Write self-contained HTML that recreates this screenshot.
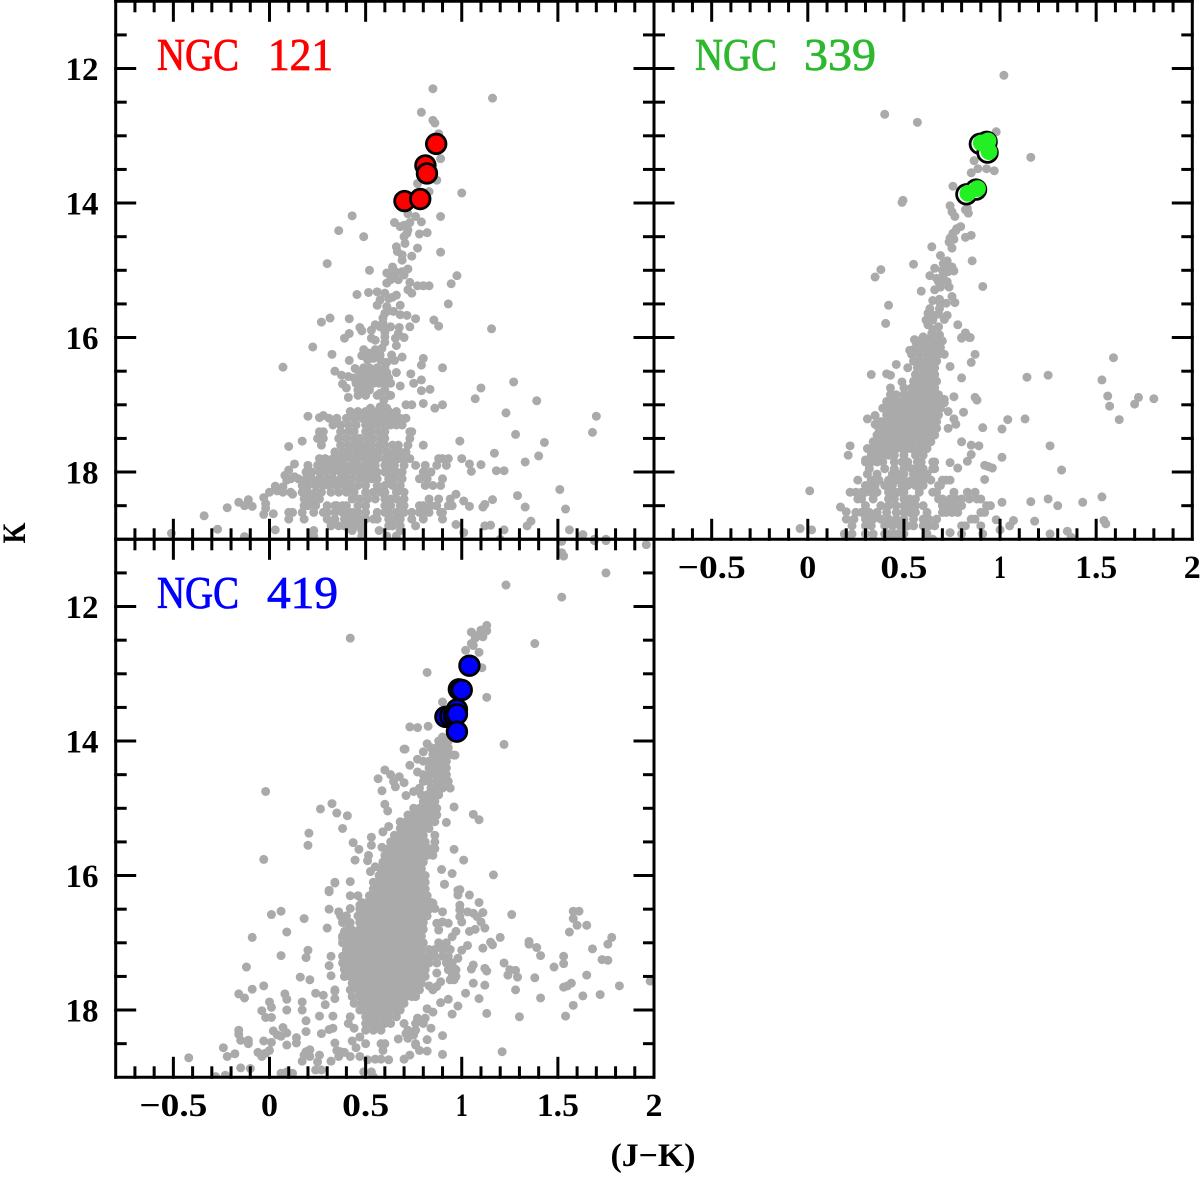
<!DOCTYPE html>
<html lang="en">
<head>
<meta charset="utf-8">
<title>Near-infrared colour-magnitude diagrams of NGC 121, NGC 339 and NGC 419</title>
<style>
  html, body { margin: 0; padding: 0; background: #ffffff; }
  svg { display: block; }
  text { font-family: "Liberation Serif", "DejaVu Serif", serif; }
  .tick-label { font-size: 33px; font-weight: 700; fill: #000000; }
  .panel-title { font-size: 45px; stroke-width: 0.8px; }
  .axis-title { font-size: 33px; font-weight: 700; fill: #000000; }
</style>
</head>
<body>
<svg id="chart" xmlns="http://www.w3.org/2000/svg" width="1200" height="1178" viewBox="0 0 1200 1178">
  <rect x="0" y="0" width="1200" height="1178" fill="#ffffff"/>
  <defs>
    <clipPath id="clip-121"><rect x="115.7" y="1.3" width="538.3" height="538"/></clipPath>
    <clipPath id="clip-339"><rect x="654" y="1.3" width="538.3" height="538"/></clipPath>
    <clipPath id="clip-419"><rect x="115.7" y="539.3" width="538.3" height="538"/></clipPath>
  </defs>
  <g id="layer-points"></g>
  <g id="layer-highlight"></g>
  <g id="layer-axes"></g>
  <g id="layer-labels"></g>
  <g fill="#ff0000" stroke="#ff0000">
    <text class="panel-title" x="157" y="70" textLength="82" lengthAdjust="spacingAndGlyphs">NGC</text>
    <text class="panel-title" x="268" y="70" textLength="65" lengthAdjust="spacingAndGlyphs">121</text>
  </g>
  <g fill="#2eb82e" stroke="#2eb82e">
    <text class="panel-title" x="695" y="70" textLength="82" lengthAdjust="spacingAndGlyphs">NGC</text>
    <text class="panel-title" x="804" y="70" textLength="72" lengthAdjust="spacingAndGlyphs">339</text>
  </g>
  <g fill="#0000ff" stroke="#0000ff">
    <text class="panel-title" x="157" y="608" textLength="82" lengthAdjust="spacingAndGlyphs">NGC</text>
    <text class="panel-title" x="267" y="608" textLength="71" lengthAdjust="spacingAndGlyphs">419</text>
  </g>
  <text class="axis-title" transform="translate(25 533) rotate(-90)" text-anchor="middle" textLength="21" lengthAdjust="spacingAndGlyphs">K</text>
  <text class="axis-title" x="653" y="1166" text-anchor="middle" textLength="85" lengthAdjust="spacingAndGlyphs">(J&#8722;K)</text>
</svg>
<script>
// ---- axis values ----
const xMajorTicks = [-0.5, 0, 0.5, 1, 1.5];
const xMinorTicks = [-0.7, -0.6, -0.4, -0.3, -0.2, -0.1, 0.1, 0.2, 0.3, 0.4, 0.6, 0.7, 0.8, 0.9, 1.1, 1.2, 1.3, 1.4, 1.6, 1.7, 1.8, 1.9];
const yMajorTicks = [12, 14, 16, 18];
const yMinorTicks = [11.5, 12.5, 13, 13.5, 14.5, 15, 15.5, 16.5, 17, 17.5, 18.5];
const xTickLabels = ["\u22120.5", "0", "0.5", "1", "1.5", "2"];
const xTickLabelValues = [-0.5, 0, 0.5, 1, 1.5, 2];
const yTickLabels = ["12", "14", "16", "18"];

// ---- highlighted stars [(J-K), K] ----
const ngc121Highlight = [[0.867,13.12],[0.811,13.44],[0.819,13.56],[0.702,13.97],[0.784,13.94]];
const ngc339Highlight = [[0.895,13.12],[0.93,13.09],[0.935,13.25],[0.825,13.87],[0.875,13.8]];
const ngc419Highlight = [[1.04,12.88],[0.985,13.23],[1.0,13.24],[0.975,13.53],[0.915,13.64],[0.94,13.63],[0.96,13.62],[0.975,13.6],[0.975,13.86]];

// ---- NGC 121 stars: individual [(J-K), K] ----
const ngc121Stars = [
[0.85,12.3],[1.16,12.44],[0.79,12.65],[0.85,12.77],[0.86,12.81],[0.88,12.97],[0.89,13.34],[0.87,13.66],[0.77,13.71],[0.83,13.83],[1.0,13.85],
[0.43,14.19],[0.89,14.2],[0.72,14.16],[0.76,14.2],[0.79,14.28],[0.65,14.29],[0.73,14.29],[0.72,14.4],[0.68,14.35],[0.7,14.33],
[0.36,14.41],[0.49,14.5],[0.715,14.45],[0.7,14.5],[0.705,14.6],[0.66,14.65],[0.665,14.72],[0.69,14.77],[0.74,14.79],[0.69,14.85],[0.78,14.46],[0.82,14.44],[0.77,14.67],[0.89,14.73],
[0.3,14.9],[0.52,15.0],[0.64,14.95],[0.61,15.04],[0.655,15.02],[0.69,15.02],[0.72,14.98],[0.63,15.14],[0.61,15.19],[0.67,15.14],[0.7,15.07],[0.65,15.08],
[0.73,15.18],[0.77,15.23],[0.8,15.23],[0.83,15.23],[0.72,15.29],[0.74,15.34],[0.975,15.08],[0.945,15.2],
[0.455,15.36],[0.515,15.33],[0.56,15.32],[0.6,15.34],[0.62,15.42],[0.575,15.44],[0.56,15.52],[0.66,15.37],[0.68,15.52],[0.93,15.5],[0.64,15.4],
[0.61,15.54],[0.6,15.64],[0.59,15.71],[0.645,15.61],[0.68,15.66],[0.715,15.67],[0.76,15.72],[0.855,15.74],[0.88,15.83],[1.155,15.87],[0.62,15.6],
[0.27,15.77],[0.315,15.71],[0.415,15.72],[0.47,15.85],[0.48,15.9],[0.53,15.89],[0.55,15.81],[0.575,15.84],[0.61,15.86],[0.63,15.84],[0.675,15.85],[0.73,15.84],[0.59,15.78],[0.6,15.92],
[0.415,15.94],[0.39,16.01],[0.53,16.01],[0.55,16.04],[0.6,15.99],[0.655,16.01],[0.7,16],[0.67,15.94],[0.66,16.12],[0.225,16.14],[0.325,16.25],[0.415,16.34],[0.07,16.44],[0.6,16.07],
[0.49,16.18],[0.48,16.27],[0.515,16.23],[0.55,16.18],[0.585,16.16],[0.575,16.26],[0.54,16.31],[0.635,16.26],[0.61,16.37],[0.65,16.34],[0.69,16.29],[0.51,16.33],[0.55,16.26],[0.58,16.34],
[0.8,16.31],[0.79,16.41],[0.9,16.45],[0.735,16.54],[0.79,16.63],[0.75,16.68],[0.68,16.72],[0.79,16.79],[0.835,16.77],
[0.445,16.46],[0.34,16.5],[0.375,16.56],[0.41,16.58],[0.38,16.69],[0.4,16.75],[0.41,16.89],
[1.1,16.75],[1.07,16.91],[0.8,16.98],[0.71,17],[0.74,17],[0.86,17.05],[0.9,17],[0.575,16.83],[0.63,16.86],[0.595,16.93],[0.525,17.05],[0.575,17.03],[0.61,17.05],
[1.27,16.66],[1.39,16.94],[1.23,17.12],[1.7,17.17],[1.68,17.41],[1.28,17.44],[1.43,17.56],[0.99,17.54],[1.4,17.76],[1.33,17.85],[1.17,17.72],[1.0,17.8],[1.04,17.88],[1.1,17.89],[1.05,17.99],[1.18,17.98],[1.22,17.98],
[1.51,18.26],[1.29,18.35],[1.16,18.41],[1.33,18.52],[1.54,18.55],[1.12,18.48],[1.11,18.52],[1.04,18.51],[1.01,18.43],[0.97,18.33],[1.36,18.73],[1.34,18.8],[1.56,18.86],[1.63,18.93],[1.22,18.86],[1.15,18.79],[1.12,18.8],[0.97,18.78],[1.01,18.9],[1.2,19.0],[1.69,19.0],[1.75,19.0],
[-0.34,18.65],[-0.22,18.53],[-0.16,18.45],[-0.11,18.41],[-0.13,18.5],[-0.09,18.51],[-0.27,18.85],[-0.51,18.91],[-0.13,18.96],[-0.03,18.38],[0,18.3],[0.03,18.21],[-0.02,18.47],[-0.02,18.54],[-0.03,18.63],[0.02,18.62],[0.03,18.86],
[0.2,17.17],[0.26,17.19],[0.28,17.16],[0.1,17.62],[0.17,17.54],[0.13,17.88],[0.1,17.97],[0.08,18.05],[0.09,18.12],[0.13,18.07],[0.04,18.28],[0.07,18.22],[0.12,18.33]
];
// NGC 121 dense regions: [K, [(J-K) ...]]
const ngc121Rows = [
[17.1,[0.42,0.46,0.5,0.53,0.56,0.59,0.62,0.66]],
[17.2,[0.31,0.35,0.4,0.44,0.48,0.52,0.55,0.58,0.61,0.64,0.68,0.71]],
[17.3,[0.33,0.37,0.41,0.45,0.5,0.53,0.56,0.6,0.63,0.66,0.69]],
[17.4,[0.26,0.28,0.37,0.41,0.44,0.5,0.53,0.57,0.6,0.73,0.74]],
[17.5,[0.25,0.28,0.36,0.4,0.44,0.47,0.51,0.54,0.58,0.6,0.73]],
[17.6,[0.27,0.37,0.41,0.44,0.47,0.5,0.53,0.57,0.6,0.64,0.67,0.72,0.8]],
[17.7,[0.34,0.38,0.41,0.45,0.48,0.51,0.54,0.57,0.61,0.65,0.68,0.71]],
[17.8,[0.26,0.29,0.33,0.36,0.39,0.43,0.46,0.5,0.53,0.56,0.6,0.63,0.67,0.7,0.73,0.88,0.9,0.93]],
[17.9,[0.2,0.25,0.28,0.31,0.35,0.38,0.42,0.45,0.49,0.52,0.55,0.6,0.63,0.65,0.7,0.76,0.81,0.87,0.92]],
[18.0,[0.19,0.22,0.26,0.29,0.33,0.37,0.4,0.44,0.47,0.5,0.53,0.56,0.6,0.63,0.66,0.69,0.8,0.84]],
[18.1,[0.11,0.15,0.19,0.22,0.26,0.3,0.33,0.37,0.4,0.43,0.47,0.5,0.53,0.56,0.62,0.65,0.69,0.78,0.82,0.9]],
[18.2,[0.17,0.2,0.24,0.28,0.31,0.35,0.39,0.42,0.46,0.5,0.56,0.6,0.64,0.68,0.81,0.85,0.89]],
[18.3,[0.07,0.11,0.17,0.2,0.24,0.27,0.32,0.36,0.4,0.44,0.5,0.54,0.58,0.6,0.66,0.7]],
[18.4,[0.18,0.2,0.22,0.26,0.43,0.47,0.51,0.55,0.6,0.63,0.66,0.7,0.83,0.88,0.94]],
[18.5,[0.18,0.2,0.24,0.3,0.34,0.35,0.38,0.4,0.46,0.5,0.6,0.63,0.68,0.7,0.78,0.8,0.84,0.87,0.93,0.95]],
[18.6,[0.1,0.12,0.17,0.23,0.28,0.3,0.34,0.38,0.41,0.43,0.46,0.5,0.56,0.6,0.62,0.66,0.7,0.74,0.78,0.8,0.83,0.89,0.9]],
[18.7,[0.1,0.18,0.3,0.34,0.39,0.42,0.44,0.47,0.5,0.54,0.56,0.62,0.65,0.68,0.74,0.8,0.9]],
[18.8,[0.32,0.36,0.39,0.42,0.45,0.48,0.62,0.64,0.68,0.76]],
[18.87,[0.23,0.43,0.48,0.57,0.68]],
[18.95,[0.22,0.23,0.48,0.61,0.66]],
[16.45,[0.49,0.52,0.56,0.6]],
[16.52,[0.47,0.5,0.53,0.56,0.59,0.61,0.66]],
[16.6,[0.44,0.47,0.5,0.53,0.56,0.59,0.62]],
[16.68,[0.45,0.48,0.51,0.54,0.57,0.6,0.63]],
[16.78,[0.46,0.49,0.52,0.6]],
[16.86,[0.46,0.5,0.56,0.62,0.63]]
];

// ---- NGC 339 stars: individual [(J-K), K] ----
const ngc339Stars = [
[1.02,12.1],[0.4,12.68],[0.57,12.8],[0.98,12.94],[1.16,13.32],[0.865,13.37],[0.85,13.55],[0.885,13.49],[0.93,13.49],[0.97,13.52],[0.755,13.75],[0.495,13.96],[0.49,13.99],
[0.74,14.04],[0.75,14.13],[0.765,14.2],[0.83,14.08],[0.835,14.15],[0.82,14.1],
[0.795,14.35],[0.77,14.41],[0.755,14.45],[0.82,14.51],[0.85,14.48],[0.76,14.54],[0.735,14.58],[0.75,14.67],[0.775,14.38],[0.74,14.52],
[0.645,14.65],[0.69,14.78],[0.855,14.86],[0.55,14.91],[0.725,14.86],[0.705,14.9],[0.75,14.95],[0.76,15.01],[0.73,15.02],[0.66,14.97],[0.705,15.07],[0.68,15.17],[0.67,15.12],[0.635,15.08],[0.73,14.95],[0.7,15.0],
[0.38,14.99],[0.35,15.1],[0.725,15.17],[0.735,15.25],[0.66,15.29],[0.59,15.31],[0.91,15.24],[0.75,15.39],[0.765,15.48],[0.72,15.49],[0.685,15.43],[0.65,15.45],[0.69,15.25],[0.71,15.15],[0.69,15.5],
[0.42,15.52],[0.405,15.79],[0.635,15.57],[0.625,15.64],[0.66,15.67],[0.685,15.57],[0.615,15.74],[0.65,15.74],[0.725,15.67],[0.71,15.73],[0.625,15.81],[0.68,15.84],[0.64,15.7],[0.68,15.65],
[0.78,15.81],[0.82,15.94],[0.8,16],[0.845,16],[0.555,16.03],[0.6,15.99],[0.645,15.94],[0.685,15.96],[0.635,16.01],[0.65,15.88],
[1.59,16.3],[1.14,16.59],[1.25,16.56],[1.53,16.63],[1.56,16.87],[1.57,17.02],[1.72,16.89],[1.7,16.99],[1.8,16.91],[1.62,17.22],[1.13,17.21],[1.04,17.22],[1.01,17.36],[0.91,17.34],[1.26,17.61],[1.01,17.78],[1.32,17.97],[0.92,17.9],[0.94,17.92],[0.96,17.94],[0.92,18.11],
[0.8,16.6],[0.85,16.37],[0.87,16.25],[0.81,17.11],[0.76,16.88],[0.71,16.92],[0.71,16.97],[0.87,16.89],[0.88,16.93],[0.8,16.01],[0.84,16],[0.82,15.93],[0.74,16.43],[0.73,17.1],[0.76,17.21],[0.77,17.29],[0.73,17.35],
[0.8,17.55],[0.85,17.6],[0.89,17.61],[0.85,17.74],[0.83,17.84],[0.74,17.86],[0.78,17.94],[1.25,18.4],[1.3,18.5],[1.16,18.44],[1.01,18.45],[1.43,18.45],[1.53,18.37],[1.54,18.72],[1.55,18.77],[1.18,18.73],[1.07,18.72],[1.05,18.8],[0.98,18.71],[1,18.86],[1.26,18.92],[1.35,18.88],[1.37,18.97],[0.74,18.9],
[0.01,18.28],[-0.04,18.84],[0.02,18.86],[0.33,16.55],[0.41,16.54],[0.43,16.56],[0.46,16.4],[0.49,16.66],[0.22,17.61],[0.21,17.75],[0.31,17.21],[0.35,17.16],[0.35,17.29],[0.3,17.82],[0.56,16.05],[0.53,16.19],[0.52,16.45],[0.17,18.52],[0.2,18.59],[0.26,18.12],[0.22,18.3],
[0.65,19.0],[0.42,19.0],[0.34,19.0],[0.22,18.95]
];
// NGC 339 dense regions: [K, [(J-K) ...]]
const ngc339Rows = [
[16.05,[0.58,0.61,0.64,0.67,0.7]],
[16.15,[0.56,0.6,0.63,0.66,0.69]],
[16.25,[0.54,0.58,0.62,0.65,0.68,0.71]],
[16.35,[0.55,0.58,0.61,0.64,0.67]],
[16.45,[0.57,0.6,0.63,0.66]],
[16.55,[0.56,0.6,0.63,0.66]],
[16.65,[0.55,0.58,0.61,0.64,0.67]],
[16.75,[0.43,0.5,0.54,0.57,0.6,0.63,0.66]],
[16.85,[0.43,0.46,0.5,0.53,0.56,0.59,0.62,0.65,0.68]],
[16.95,[0.41,0.44,0.47,0.5,0.53,0.56,0.59,0.62,0.65,0.68]],
[17.05,[0.39,0.42,0.45,0.48,0.51,0.54,0.57,0.6,0.63,0.66,0.69]],
[17.15,[0.41,0.44,0.47,0.5,0.53,0.56,0.59,0.62,0.65,0.68]],
[17.25,[0.38,0.41,0.44,0.47,0.5,0.53,0.56,0.59,0.62,0.65,0.67]],
[17.35,[0.37,0.4,0.43,0.46,0.49,0.52,0.55,0.58,0.61,0.64,0.67]],
[17.45,[0.36,0.39,0.42,0.45,0.48,0.51,0.54,0.57,0.6,0.63,0.66]],
[17.55,[0.34,0.37,0.4,0.43,0.46,0.49,0.52,0.55,0.58,0.61,0.64]],
[17.65,[0.31,0.34,0.37,0.4,0.43,0.46,0.49,0.52,0.54,0.58,0.62]],
[17.75,[0.33,0.36,0.39,0.42,0.45,0.5,0.56,0.6]],
[17.85,[0.3,0.33,0.36,0.39,0.45,0.49,0.52,0.57,0.59,0.65,0.66]],
[17.95,[0.32,0.4,0.45,0.5,0.54,0.57,0.6,0.65,0.66]],
[18.03,[0.31,0.36,0.44,0.47,0.5,0.55,0.58,0.62]],
[18.12,[0.33,0.37,0.42,0.46,0.5,0.54,0.57,0.6,0.64,0.7,0.72,0.74]],
[18.2,[0.3,0.32,0.35,0.4,0.44,0.49,0.52,0.56,0.6,0.68,0.69]],
[18.3,[0.25,0.28,0.3,0.33,0.36,0.42,0.44,0.47,0.5,0.58,0.65,0.67,0.76,0.83,0.87]],
[18.4,[0.26,0.28,0.34,0.42,0.45,0.5,0.53,0.56,0.68,0.7,0.74,0.77,0.8,0.84,0.88,0.9]],
[18.5,[0.3,0.38,0.42,0.46,0.5,0.53,0.56,0.6,0.7,0.72,0.76,0.8,0.93,0.95]],
[18.6,[0.25,0.28,0.32,0.36,0.41,0.46,0.5,0.53,0.56,0.62,0.7,0.72,0.75,0.78,0.9,0.92]],
[18.7,[0.2,0.24,0.3,0.34,0.38,0.42,0.46,0.5,0.55,0.6,0.63,0.67,0.85,0.87]],
[18.8,[0.23,0.3,0.33,0.4,0.44,0.48,0.52,0.55,0.6,0.63,0.66,0.8,0.82,0.9]],
[18.92,[0.19,0.23,0.3,0.34,0.4,0.42,0.45,0.47,0.5,0.62,0.8,0.91]]
];

// ---- NGC 419 stars: individual [(J-K), K] ----
const ngc419Stars = [
[1.75,11.5],[1.52,11.2],[1.53,11.25],[1.96,11.08],[1.52,11.03],[1.69,11.02],[1.75,11.02],[1.23,11.68],[1.52,11.86],[1.38,12.55],[0.42,12.47],
[1.13,12.28],[1.1,12.35],[1.07,12.43],[1.05,12.55],[1.02,12.65],[1.13,12.36],[0.82,12.98],[1.105,12.91],[1.13,13.35],[0.9,13.42],[0.73,13.79],[0.77,13.8],[0.825,13.78],[1.22,14.05],[0.7,14.12],[0.96,14.21],[1.05,12.38],[1.11,12.45],[1.06,12.58],[1.09,12.68],[1.07,12.47],[0.9,13.94],
[0.705,14.12],[0.82,14.04],[0.965,14.21],[0.6,14.43],[0.63,14.5],[0.565,14.56],[0.675,14.53],[0.7,14.62],[0.655,14.68],[0.645,14.6],[0.585,14.74],[0.73,14.36],[0.77,14.27],[0.8,14.16],[0.77,14.46],[0.71,14.81],[0.75,14.75],[0.6,14.94],[0.615,15.04],
[0.325,14.93],[0.265,15.01],[0.35,15.07],[0.405,15.11],[0.38,15.3],[0.205,15.37],[0.2,15.55],[0.435,15.51],[0.465,15.61],[0.445,15.77],[0.34,16.1],[0.31,16.22],[0.96,14.98],[1.06,15.09],[1.09,15.17],[0.96,15.61],[1.01,15.77],[0.92,15.21],[0.895,15.91],[0.95,15.97],[1.165,15.99],[0.91,16.13],[0.98,16.22],
[0.62,15.27],[0.59,15.35],[0.53,15.43],[0.53,15.55],[0.585,15.58],[0.515,15.7],[0.51,15.78],[0.55,15.87],[0.525,15.94],[-0.02,14.75],[-0.03,15.76],
[1.58,16.53],[1.61,16.53],[1.58,16.64],[1.6,16.74],[1.65,16.74],[1.56,16.84],[1.26,16.58],[1.78,16.92],[1.76,17.02],[1.68,17.09],[1.35,16.98],[1.35,17.02],[1.39,17.07],[1.41,17.19],[1.2,16.92],[1.16,17.03],[1.15,16.99],[1.11,17.08],[1.53,17.2],[1.53,17.31],[1.48,17.36],[1.73,17.25],[1.76,17.26],
[1.22,17.3],[1.25,17.4],[1.28,17.41],[1.24,17.48],[1.29,17.51],[1.38,17.52],[1.65,17.48],[1.98,17.57],[1.82,17.64],[1.57,17.6],[1.55,17.64],[1.53,17.66],[1.28,17.7],[1.41,17.82],[1.63,17.79],[1.72,17.77],[1.58,17.93],[1.54,18.09],[1.3,18.1],[1.13,18.05],[1.21,18.62],
[1.12,17.38],[1.13,17.42],[1.06,17.33],[1.05,17.39],[1.12,17.63],[1.06,17.6],[1.02,17.75],[1.09,17.83],[0.98,17.94],[0.95,18.06],
[1.04,16.29],[1.09,16.4],[0.99,16.21],[0.98,16.29],[0.99,16.44],[0.99,16.51],[1.11,16.55],[1.03,16.54],[1.06,16.56],[1.08,16.61],[1.1,16.69],[1.12,16.78],[0.99,16.61],[1,16.69],[1.07,16.8],[1.04,16.83],[0.97,16.83],[0.95,16.91],[1.03,17.04],[1,17.11],[0.98,17.23],[0.96,17.38],
[0.91,16.13],[0.9,16.54],[0.93,16.71],[0.9,16.69],[0.87,16.71],[0.88,16.81],[0.85,16.41],[0.86,16.49],[0.87,17.45],[0.89,17.58],[0.87,17.65],[0.85,17.7],[0.83,17.64],[0.94,17.55],[0.96,17.55],[0.93,17.84],[0.89,17.89],[0.82,17.98],[0.85,18.03],[0.81,18.12],[0.77,18.12],[0.84,18.27],[0.9,18.38],[0.82,18.44],[0.82,18.61],[0.9,18.66],[0.76,18.52],[0.78,18.6],[0.73,18.67],[0.7,18.73],
[0.06,16.53],[0.01,16.58],[0.18,16.64],[0.09,16.84],[-0.09,16.92],[0.2,17.11],[0.19,17.22],[0.06,17.19],[-0.12,17.36],[0.32,17.2],[0.31,17.34],[0.32,17.49],[0.16,17.51],[0.21,17.55],
[-0.03,17.64],[-0.09,17.69],[-0.16,17.76],[-0.13,17.82],[0.08,17.76],[0.09,17.84],[0,17.88],[0.01,17.96],[-0.04,18.01],[-0.02,18.11],[0.01,18.11],[0.09,18],[0.17,17.88],[0.17,18],[0.24,17.75],[0.28,17.78],[0.29,17.92],[0.34,17.72],[0.34,17.83],[0.26,18.09],[0.33,18.09],[0.19,18.16],
[-0.16,18.3],[-0.16,18.36],[-0.15,18.45],[-0.11,18.45],[-0.11,18.5],[0.02,18.31],[0.04,18.37],[0.07,18.26],[0.09,18.34],[0.06,18.39],[-0.03,18.46],[0.01,18.48],[0.09,18.52],[0.14,18.41],[0.14,18.49],[0.19,18.32],[0.27,18.35],[0.31,18.29],[0.33,18.27],[0.44,18.27],
[-0.24,18.56],[-0.22,18.69],[-0.18,18.65],[-0.42,18.71],[-0.06,18.63],[-0.04,18.69],[-0.02,18.64],[0,18.6],[0.21,18.59],[0.19,18.62],[0.18,18.67],[0.21,18.69],[0.26,18.67],[0.17,18.76],[0.25,18.77],[0.32,18.76],[0.24,18.89],[0.27,18.89],
[0.34,18.49],[0.35,18.6],[0.37,18.62],[0.36,18.69],[0.39,18.63],[0.42,18.69],[0.43,18.46],[0.45,18.56],[0.47,18.4],[0.5,18.5],[0.47,18.69],[-0.15,18.86],[-0.1,18.87],[-0.28,18.99],[-0.23,18.97],[0.06,18.94],[0.09,18.92],[0.12,18.94],[0.49,18.92],[0.53,18.92],[0.54,18.99],
[0.51,18.74],[0.55,18.73],[0.58,18.73],[0.62,18.74],[0.59,18.6],[0.58,18.5],[0.6,18.5],[0.67,18.43],[0.71,18.35],[0.75,18.37],[0.72,18.42],[0.76,18.5],
[0.34,16.11],[0.42,16.09],[0.31,16.24],[0.31,16.5],[0.36,16.54],[0.38,16.64],[0.42,16.49],[0.41,16.69],[0.47,16.44],[0.49,16.54],[0.47,16.69],[0.3,16.78],[0.39,16.83],[0.38,16.93],[0.41,16.98],[0.43,16.81],[0.4,17.11],[0.39,17.28],[0.39,17.38],[0.39,17.5],[0.34,17.7]
];
// NGC 419 dense regions: [K, [(J-K) ...]]
const ngc419Rows = [
[14.0,[0.88,0.9,0.93]],
[14.1,[0.84,0.87,0.9,0.93]],
[14.2,[0.85,0.88,0.91,0.94]],
[14.3,[0.8,0.83,0.86,0.89,0.92]],
[14.4,[0.83,0.86,0.89,0.92]],
[14.5,[0.8,0.83,0.86,0.89,0.92]],
[14.6,[0.8,0.83,0.87,0.9,0.93]],
[14.7,[0.78,0.84,0.87,0.9,0.94]],
[14.8,[0.79,0.82,0.85,0.88]],
[14.9,[0.8,0.83,0.86]],
[15.0,[0.75,0.78,0.81,0.84,0.87]],
[15.1,[0.72,0.75,0.78,0.81,0.84,0.87]],
[15.2,[0.68,0.71,0.74,0.77,0.8,0.83,0.86]],
[15.3,[0.68,0.71,0.74,0.77,0.8,0.83]],
[15.4,[0.65,0.68,0.71,0.74,0.77,0.8,0.86]],
[15.5,[0.63,0.66,0.69,0.72,0.75,0.78,0.81,0.86]],
[15.6,[0.62,0.65,0.68,0.71,0.74,0.77,0.8,0.83,0.86]],
[15.7,[0.6,0.63,0.66,0.69,0.72,0.75,0.78,0.82,0.85]],
[15.8,[0.59,0.62,0.65,0.68,0.71,0.74,0.77,0.8]],
[15.9,[0.58,0.61,0.64,0.67,0.7,0.73,0.76,0.79]],
[16.0,[0.57,0.6,0.63,0.66,0.69,0.72,0.75,0.78,0.81]],
[16.1,[0.54,0.57,0.6,0.63,0.66,0.69,0.72,0.75,0.78,0.81]],
[16.2,[0.54,0.57,0.6,0.63,0.66,0.69,0.72,0.75,0.78,0.81]],
[16.3,[0.42,0.46,0.52,0.55,0.58,0.61,0.64,0.67,0.7,0.73,0.76,0.79,0.82]],
[16.4,[0.48,0.51,0.54,0.57,0.6,0.63,0.66,0.69,0.72,0.75,0.78,0.81,0.84]],
[16.5,[0.47,0.5,0.53,0.56,0.59,0.62,0.65,0.68,0.71,0.74,0.77,0.8,0.83]],
[16.6,[0.37,0.4,0.46,0.49,0.52,0.55,0.58,0.61,0.64,0.67,0.7,0.73,0.76,0.79,0.82]],
[16.7,[0.38,0.42,0.47,0.5,0.53,0.56,0.59,0.62,0.65,0.68,0.71,0.74,0.77,0.8]],
[16.8,[0.41,0.47,0.5,0.53,0.56,0.59,0.62,0.65,0.68,0.71,0.74,0.77,0.8]],
[16.9,[0.38,0.42,0.46,0.49,0.52,0.55,0.58,0.61,0.64,0.67,0.7,0.73,0.76,0.79]],
[17.0,[0.38,0.41,0.44,0.47,0.5,0.53,0.56,0.59,0.62,0.65,0.68,0.71,0.74,0.77,0.8,0.88,0.92]],
[17.1,[0.4,0.43,0.46,0.49,0.52,0.55,0.58,0.61,0.64,0.67,0.7,0.73,0.76,0.79,0.83,0.86,0.9,0.94]],
[17.2,[0.38,0.41,0.44,0.47,0.5,0.53,0.56,0.59,0.62,0.65,0.68,0.71,0.74,0.77,0.8,0.83,0.86,0.9,0.93]],
[17.3,[0.38,0.41,0.44,0.47,0.5,0.53,0.56,0.59,0.62,0.65,0.68,0.71,0.74,0.77,0.8,0.83,0.87,0.92,0.95]],
[17.4,[0.39,0.42,0.45,0.48,0.51,0.54,0.57,0.6,0.63,0.66,0.69,0.72,0.75,0.78,0.81,0.93,0.97]],
[17.5,[0.39,0.42,0.45,0.48,0.51,0.54,0.57,0.6,0.63,0.66,0.69,0.72,0.75,0.78,0.81,0.95,0.97]],
[17.6,[0.43,0.46,0.49,0.52,0.55,0.58,0.61,0.64,0.67,0.7,0.73,0.76,0.79]],
[17.7,[0.42,0.46,0.49,0.52,0.55,0.58,0.61,0.64,0.67,0.7,0.73,0.76,0.78]],
[17.8,[0.43,0.47,0.5,0.53,0.56,0.59,0.62,0.65,0.68,0.71,0.74,0.76]],
[17.9,[0.44,0.48,0.52,0.55,0.58,0.61,0.64,0.67,0.7]],
[18.0,[0.47,0.5,0.53,0.56,0.59,0.62,0.65,0.68]],
[18.1,[0.42,0.5,0.53,0.56,0.59,0.62,0.66]],
[18.2,[0.41,0.5,0.53,0.56,0.6,0.63,0.7,0.76,0.8]],
[18.3,[0.5,0.54,0.58,0.72,0.76]]
];

// ---- panel geometry ----
const panelWidth = 538.3;
const panelHeight = 538;
const xSpan = [-0.8, 2];
const ySpan = [11, 19];
const NS = "http://www.w3.org/2000/svg";
const starRadius = 4.5;

function xScale(panel, c) {
  return panel.left + (c - xSpan[0]) / (xSpan[1] - xSpan[0]) * panelWidth;
}
function yScale(panel, k) {
  return panel.top + (k - ySpan[0]) / (ySpan[1] - ySpan[0]) * panelHeight;
}
function addCircle(parent, cx, cy, r, fill, stroke, strokeWidth, name) {
  const el = document.createElementNS(NS, "circle");
  el.setAttribute("cx", cx.toFixed(2));
  el.setAttribute("cy", cy.toFixed(2));
  el.setAttribute("r", r);
  el.setAttribute("fill", fill);
  if (stroke) { el.setAttribute("stroke", stroke); el.setAttribute("stroke-width", strokeWidth); }
  
  
  parent.appendChild(el);
  return el;
}
function addLine(parent, x1, y1, x2, y2, name) {
  const el = document.createElementNS(NS, "line");
  el.setAttribute("x1", x1.toFixed(2));
  el.setAttribute("y1", y1.toFixed(2));
  el.setAttribute("x2", x2.toFixed(2));
  el.setAttribute("y2", y2.toFixed(2));
  el.setAttribute("stroke", "#000000");
  el.setAttribute("stroke-width", "3");
  el.setAttribute("stroke-linecap", "square");
  
  
  parent.appendChild(el);
}
function addLabel(parent, x, y, str, anchor, name, fitWidth) {
  const el = document.createElementNS(NS, "text");
  el.setAttribute("x", x.toFixed(2));
  el.setAttribute("y", y.toFixed(2));
  el.setAttribute("text-anchor", anchor);
  el.setAttribute("class", "tick-label");
  if (fitWidth) {
    el.setAttribute("textLength", fitWidth);
    el.setAttribute("lengthAdjust", "spacingAndGlyphs");
  }
  el.textContent = str;
  
  
  parent.appendChild(el);
}

function drawPanel(panel) {
  const pts = document.getElementById("layer-points");
  const g = document.createElementNS(NS, "g");
  g.setAttribute("clip-path", "url(#" + panel.clip + ")");
  
  
  pts.appendChild(g);
  panel.stars.forEach(function (s) {
    addCircle(g, xScale(panel, s[0]), yScale(panel, s[1]), starRadius, "#aaaaaa", null, 0, "star-point");
  });
  panel.rows.forEach(function (row) {
    row[1].forEach(function (c) {
      addCircle(g, xScale(panel, c), yScale(panel, row[0]), starRadius, "#aaaaaa", null, 0, "star-point");
    });
  });

  const hl = document.getElementById("layer-highlight");
  panel.highlight.forEach(function (s) {
    const cx = xScale(panel, s[0]);
    const cy = yScale(panel, s[1]);
    if (panel.offsetFill) {
      addCircle(hl, cx, cy, 9.8, "#ffffff", "#000000", 2.8, "highlight-star-outline");
    } else {
      addCircle(hl, cx, cy, 9.8, panel.color, "#000000", 2.8, "highlight-star");
    }
  });
  if (panel.offsetFill) {
    panel.highlight.forEach(function (s) {
      addCircle(hl, xScale(panel, s[0]) + 1.5, yScale(panel, s[1]) - 1, 8.4, panel.color, null, 0, "highlight-star");
    });
  }

  // axes
  const ax = document.getElementById("layer-axes");
  const L = panel.left, R = panel.left + panelWidth, T = panel.top, B = panel.top + panelHeight;
  addLine(ax, L, T, R, T, "axis-top");
  addLine(ax, L, B, R, B, "axis-bottom");
  addLine(ax, L, T, L, B, "axis-left");
  addLine(ax, R, T, R, B, "axis-right");
  xMajorTicks.forEach(function (v) {
    const x = xScale(panel, v);
    addLine(ax, x, T, x, T + 19, "x-major-tick");
    addLine(ax, x, B, x, B - 19, "x-major-tick");
  });
  xMinorTicks.forEach(function (v) {
    const x = xScale(panel, v);
    addLine(ax, x, T, x, T + 9.5, "x-minor-tick");
    addLine(ax, x, B, x, B - 9.5, "x-minor-tick");
  });
  yMajorTicks.forEach(function (v) {
    const y = yScale(panel, v);
    addLine(ax, L, y, L + 19, y, "y-major-tick");
    addLine(ax, R, y, R - 19, y, "y-major-tick");
  });
  yMinorTicks.forEach(function (v) {
    const y = yScale(panel, v);
    addLine(ax, L, y, L + 9.5, y, "y-minor-tick");
    addLine(ax, R, y, R - 9.5, y, "y-minor-tick");
  });

  // tick labels
  const lab = document.getElementById("layer-labels");
  if (panel.showX) {
    xTickLabels.forEach(function (str, i) {
      const v = xTickLabelValues[i];
      const fit = str.length === 1 ? (str === "1" ? 12 : 17) : (str.length === 4 ? 68 : (str === "1.5" ? 42 : 47));
      addLabel(lab, xScale(panel, v), B + 38.5, str, "middle", "x-tick-label", fit);
    });
  }
  if (panel.showY) {
    yTickLabels.forEach(function (str, i) {
      addLabel(lab, 98.5, yScale(panel, yMajorTicks[i]) + 11.5, str, "end", "y-tick-label", 33);
    });
  }
}

const panels = [
  { id: "ngc-121", left: 115.7, top: 1.3, clip: "clip-121", color: "#ff0000", stars: ngc121Stars, rows: ngc121Rows, highlight: ngc121Highlight, showX: false, showY: true },
  { id: "ngc-339", left: 654, top: 1.3, clip: "clip-339", color: "#22f022", stars: ngc339Stars, rows: ngc339Rows, highlight: ngc339Highlight, showX: true, showY: false, offsetFill: true },
  { id: "ngc-419", left: 115.7, top: 539.3, clip: "clip-419", color: "#0000ff", stars: ngc419Stars, rows: ngc419Rows, highlight: ngc419Highlight, showX: true, showY: true }
];
panels.forEach(drawPanel);
</script>
</body>
</html>
